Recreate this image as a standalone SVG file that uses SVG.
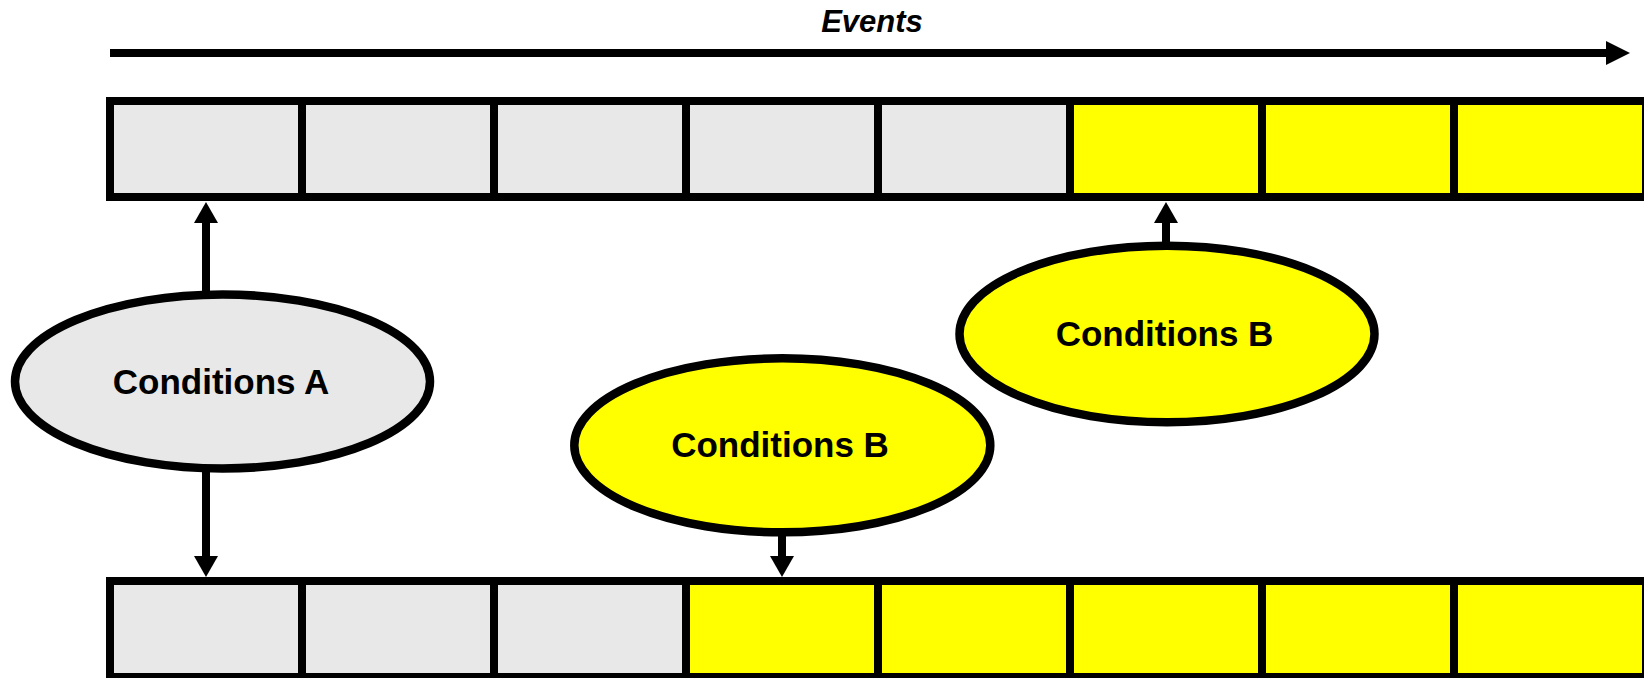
<svg xmlns="http://www.w3.org/2000/svg" width="1644" height="678" viewBox="0 0 1644 678">
  <style>
    .cell { stroke: #000; stroke-width: 8; }
    .gray { fill: #e8e8e8; }
    .yel { fill: #ffff00; }
    .ell { stroke: #000; stroke-width: 8.5; }
    .conn { stroke: #000; stroke-width: 8; fill: none; }
    .lbl { font-family: "Liberation Sans", Arial, sans-serif; font-weight: bold; font-size: 35px; fill: #000; text-anchor: middle; }
    .ttl { font-family: "Liberation Sans", Arial, sans-serif; font-weight: bold; font-style: italic; font-size: 31px; fill: #000; text-anchor: middle; }
  </style>
  <defs>
    <marker id="ah" markerUnits="userSpaceOnUse" markerWidth="22" markerHeight="24" refX="1" refY="12" orient="auto" viewBox="0 0 22 24">
      <path d="M0,0 L21,12 L0,24 z" fill="#000"/>
    </marker>
    <marker id="ahBig" markerUnits="userSpaceOnUse" markerWidth="25" markerHeight="24" refX="1" refY="12" orient="auto" viewBox="0 0 25 24">
      <path d="M0,0 L24,12 L0,24 z" fill="#000"/>
    </marker>
  </defs>

  <g id="events-axis">
    <text class="ttl" x="872" y="32">Events</text>
    <line class="conn" x1="110" y1="53" x2="1607" y2="53" marker-end="url(#ahBig)"/>
  </g>

  <g id="top-row">
    <rect class="cell gray" x="110" y="101" width="192" height="96"/>
    <rect class="cell gray" x="302" y="101" width="192" height="96"/>
    <rect class="cell gray" x="494" y="101" width="192" height="96"/>
    <rect class="cell gray" x="686" y="101" width="192" height="96"/>
    <rect class="cell gray" x="878" y="101" width="192" height="96"/>
    <rect class="cell yel" x="1070" y="101" width="192" height="96"/>
    <rect class="cell yel" x="1262" y="101" width="192" height="96"/>
    <rect class="cell yel" x="1454" y="101" width="192" height="96"/>
  </g>

  <g id="bottom-row">
    <rect class="cell gray" x="110" y="581" width="192" height="96"/>
    <rect class="cell gray" x="302" y="581" width="192" height="96"/>
    <rect class="cell gray" x="494" y="581" width="192" height="96"/>
    <rect class="cell yel" x="686" y="581" width="192" height="96"/>
    <rect class="cell yel" x="878" y="581" width="192" height="96"/>
    <rect class="cell yel" x="1070" y="581" width="192" height="96"/>
    <rect class="cell yel" x="1262" y="581" width="192" height="96"/>
    <rect class="cell yel" x="1454" y="581" width="192" height="96"/>
  </g>

  <g id="connectors">
    <line class="conn" x1="206" y1="292" x2="206" y2="222" marker-end="url(#ah)"/>
    <line class="conn" x1="206" y1="470" x2="206" y2="557" marker-end="url(#ah)"/>
    <line class="conn" x1="782" y1="534" x2="782" y2="557" marker-end="url(#ah)"/>
    <line class="conn" x1="1166" y1="244" x2="1166" y2="222" marker-end="url(#ah)"/>
  </g>

  <g id="conditions-a">
    <ellipse class="ell gray" cx="222.5" cy="381.5" rx="207.5" ry="87"/>
    <text class="lbl" x="221" y="394">Conditions A</text>
  </g>

  <g id="conditions-b-lower">
    <ellipse class="ell yel" cx="782.3" cy="445.3" rx="208" ry="87"/>
    <text class="lbl" x="780" y="457">Conditions B</text>
  </g>

  <g id="conditions-b-upper">
    <ellipse class="ell yel" cx="1167" cy="334" rx="207.5" ry="88.3"/>
    <text class="lbl" x="1164.5" y="345.5">Conditions B</text>
  </g>
</svg>
